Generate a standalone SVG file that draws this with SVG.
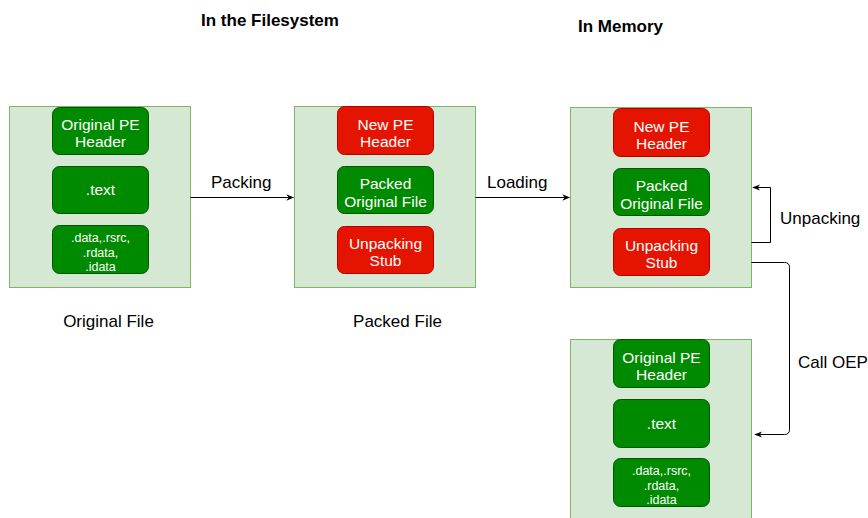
<svg xmlns="http://www.w3.org/2000/svg" width="868" height="518" viewBox="0 0 868 518">
  <defs>
    <marker id="arrow" viewBox="0 0 10 10" refX="9" refY="5" markerWidth="8" markerHeight="8" markerUnits="userSpaceOnUse" orient="auto">
      <path d="M0,1 L10,5 L0,9 L3,5 Z" fill="#000"/>
    </marker>
  </defs>
  <style>
    text { font-family: "Liberation Sans", Arial, Helvetica, sans-serif; }
    .panel { fill: #d5e8d4; stroke: #82b366; stroke-width: 1; }
    .green { fill: #008a00; stroke: #005700; stroke-width: 1; }
    .red { fill: #e51400; stroke: #b20000; stroke-width: 1; }
    .bt { fill: #ffffff; font-size: 15.5px; text-anchor: middle; }
    .st { fill: #ffffff; font-size: 12.5px; text-anchor: middle; }
    .lbl { fill: #000000; font-size: 17px; }
    .title { fill: #000000; font-size: 17px; font-weight: bold; }
    .edge { fill: none; stroke: #000; stroke-width: 1; }
  </style>

  <!-- section titles -->
  <text class="title" x="201" y="26">In the Filesystem</text>
  <text class="title" x="578" y="32">In Memory</text>

  <!-- original file -->
  <g id="original-file">
    <rect class="panel" x="9.5" y="106.5" width="181" height="181"/>
    <rect class="green" x="52.5" y="107.5" width="96" height="47" rx="7"/>
    <text class="bt" x="100.5" y="129.5">Original PE</text>
    <text class="bt" x="100.5" y="147">Header</text>
    <rect class="green" x="52.5" y="166.5" width="96" height="47" rx="7"/>
    <text class="bt" x="100.5" y="195">.text</text>
    <rect class="green" x="52.5" y="225.5" width="96" height="48" rx="7"/>
    <text class="st" x="100.5" y="241.5">.data,.rsrc,</text>
    <text class="st" x="100.5" y="256.5">.rdata,</text>
    <text class="st" x="100.5" y="270.5">.idata</text>
  </g>
  <text class="lbl" x="108.5" y="327" text-anchor="middle">Original File</text>

  <!-- packed file -->
  <g id="packed-file">
    <rect class="panel" x="294.5" y="106.5" width="181" height="181"/>
    <rect class="red" x="337.5" y="106.5" width="96" height="48" rx="7"/>
    <text class="bt" x="385.5" y="129.5">New PE</text>
    <text class="bt" x="385.5" y="147">Header</text>
    <rect class="green" x="337.5" y="166.5" width="96" height="47" rx="7"/>
    <text class="bt" x="385.5" y="189">Packed</text>
    <text class="bt" x="385.5" y="206.5">Original File</text>
    <rect class="red" x="337.5" y="226.5" width="96" height="47" rx="7"/>
    <text class="bt" x="385.5" y="248.5">Unpacking</text>
    <text class="bt" x="385.5" y="266">Stub</text>
  </g>
  <text class="lbl" x="397.5" y="327" text-anchor="middle">Packed File</text>

  <!-- packed image in memory -->
  <g id="memory-packed">
    <rect class="panel" x="570.5" y="107.5" width="181" height="180"/>
    <rect class="red" x="613.5" y="108.5" width="96" height="48" rx="7"/>
    <text class="bt" x="661.5" y="131.5">New PE</text>
    <text class="bt" x="661.5" y="149">Header</text>
    <rect class="green" x="613.5" y="168.5" width="96" height="47" rx="7"/>
    <text class="bt" x="661.5" y="191">Packed</text>
    <text class="bt" x="661.5" y="208.5">Original File</text>
    <rect class="red" x="613.5" y="228.5" width="96" height="47" rx="7"/>
    <text class="bt" x="661.5" y="250.5">Unpacking</text>
    <text class="bt" x="661.5" y="268">Stub</text>
  </g>

  <!-- unpacked image in memory -->
  <g id="memory-unpacked">
    <rect class="panel" x="570.5" y="339.5" width="181" height="190"/>
    <rect class="green" x="613.5" y="339.5" width="96" height="48" rx="7"/>
    <text class="bt" x="661.5" y="362.5">Original PE</text>
    <text class="bt" x="661.5" y="380">Header</text>
    <rect class="green" x="613.5" y="399.5" width="96" height="48" rx="7"/>
    <text class="bt" x="661.5" y="429">.text</text>
    <rect class="green" x="613.5" y="458.5" width="96" height="48" rx="7"/>
    <text class="st" x="661.5" y="474.5">.data,.rsrc,</text>
    <text class="st" x="661.5" y="489.5">.rdata,</text>
    <text class="st" x="661.5" y="503.5">.idata</text>
  </g>

  <!-- connectors -->
  <g id="connectors">
    <path class="edge" d="M190.5,197.5 H293.5" marker-end="url(#arrow)"/>
    <path class="edge" d="M475.5,197.5 H569.5" marker-end="url(#arrow)"/>
    <path class="edge" d="M751.5,242.5 H770.5 V187.5 H753" marker-end="url(#arrow)"/>
    <path class="edge" d="M751.5,262.5 H784.5 Q789.5,262.5 789.5,267.5 V429.5 Q789.5,434.5 784.5,434.5 H755" marker-end="url(#arrow)"/>
    <text class="lbl" x="211" y="188">Packing</text>
    <text class="lbl" x="487" y="188">Loading</text>
    <text class="lbl" x="780" y="224">Unpacking</text>
    <text class="lbl" x="798" y="368">Call OEP</text>
  </g>
</svg>
